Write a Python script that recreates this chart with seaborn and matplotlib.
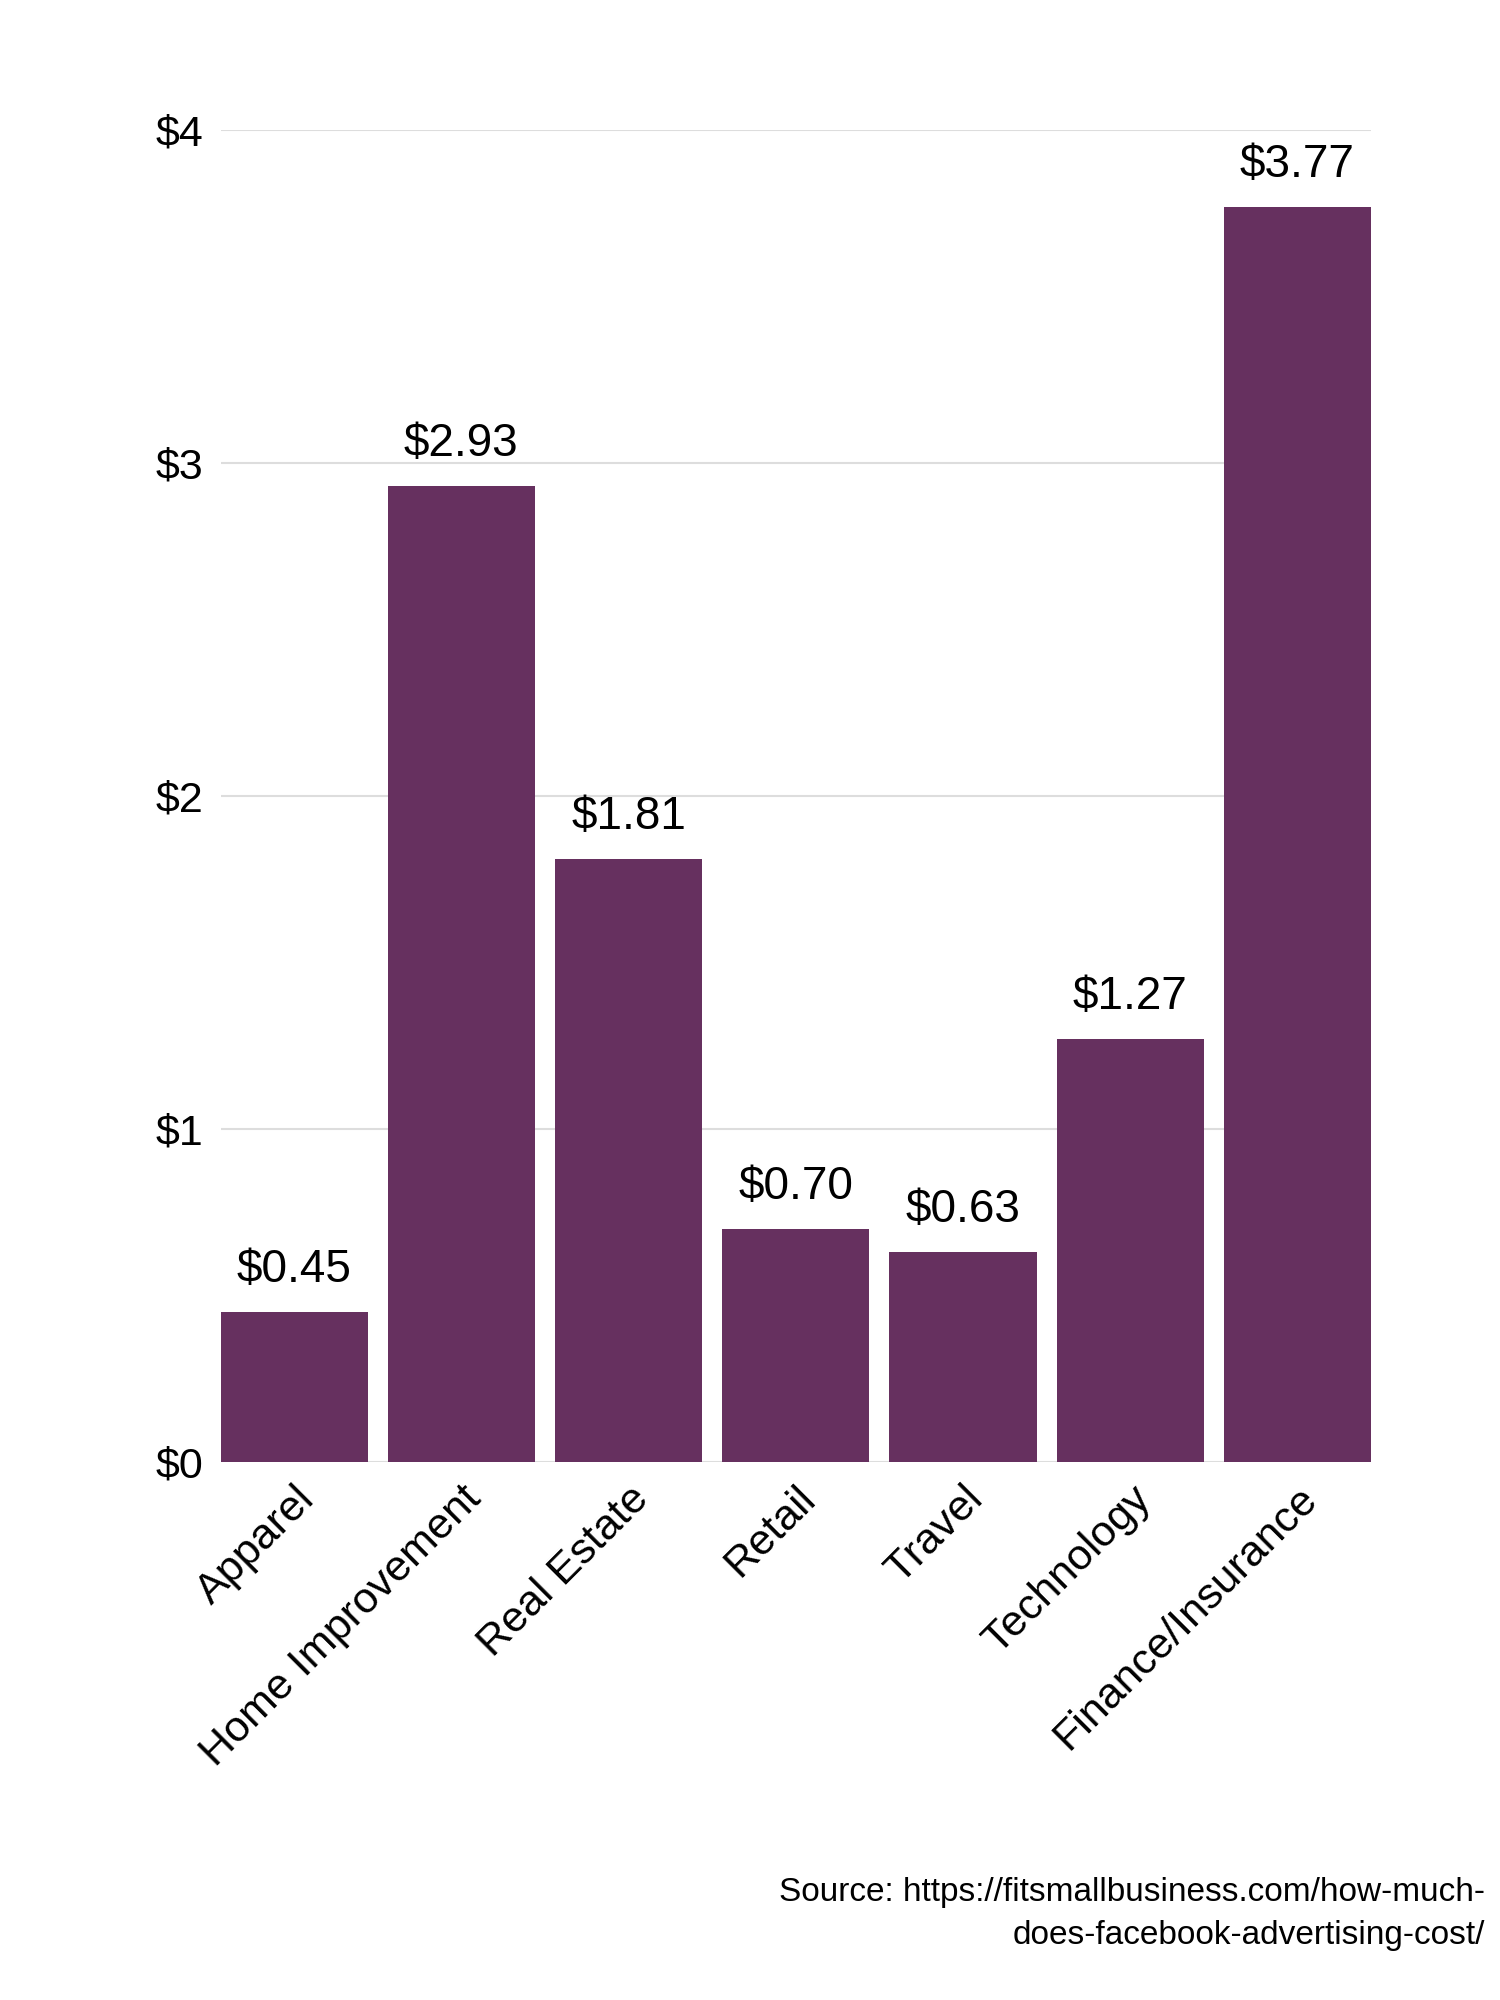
import matplotlib
matplotlib.use("Agg")
import matplotlib.pyplot as plt
import seaborn as sns
import pandas as pd

categories = ["Apparel", "Home Improvement", "Real Estate", "Retail", "Travel", "Technology", "Finance/Insurance"]
values = [0.45, 2.93, 1.81, 0.70, 0.63, 1.27, 3.77]
value_labels = ["$0.45", "$2.93", "$1.81", "$0.70", "$0.63", "$1.27", "$3.77"]
yticks = [0, 1, 2, 3, 4]
ytick_labels = ["$0", "$1", "$2", "$3", "$4"]

df = pd.DataFrame({"cat": categories, "val": values})
plt.rcParams["font.family"] = "Liberation Sans"
fig = plt.figure(figsize=(15, 20), dpi=100)
ax = fig.add_axes([0.147, 0.269, 0.767, 0.666])
sns.barplot(data=df, x="cat", y="val", color="#66305F", saturation=1, width=0.88, ax=ax, zorder=2)
ax.set_ylim(0, 4)
ax.set_xlim(-0.44, len(categories) - 0.56)
ax.set_yticks(yticks)
ax.set_yticklabels(ytick_labels, fontsize=31)
ax.yaxis.grid(True, color="#dddddd", linewidth=1.5, zorder=0)
ax.set_axisbelow(True)
ax.tick_params(axis="both", length=0, pad=12)
ax.set_xticks(range(len(categories)))
ax.set_xticklabels(categories, rotation=45, ha="right", rotation_mode="anchor", fontsize=31)
for s in ax.spines.values():
    s.set_visible(False)
ax.set_xlabel("")
ax.set_ylabel("")
for i, (v, lab) in enumerate(zip(values, value_labels)):
    ax.text(i, v + 0.06, lab, ha="center", va="bottom", fontsize=33)
fig.text(0.99, 0.043, "Source: https://fitsmallbusiness.com/how-much-\ndoes-facebook-advertising-cost/",
         ha="right", va="center", fontsize=24, linespacing=1.5)
fig.savefig("out.png", dpi=100)
